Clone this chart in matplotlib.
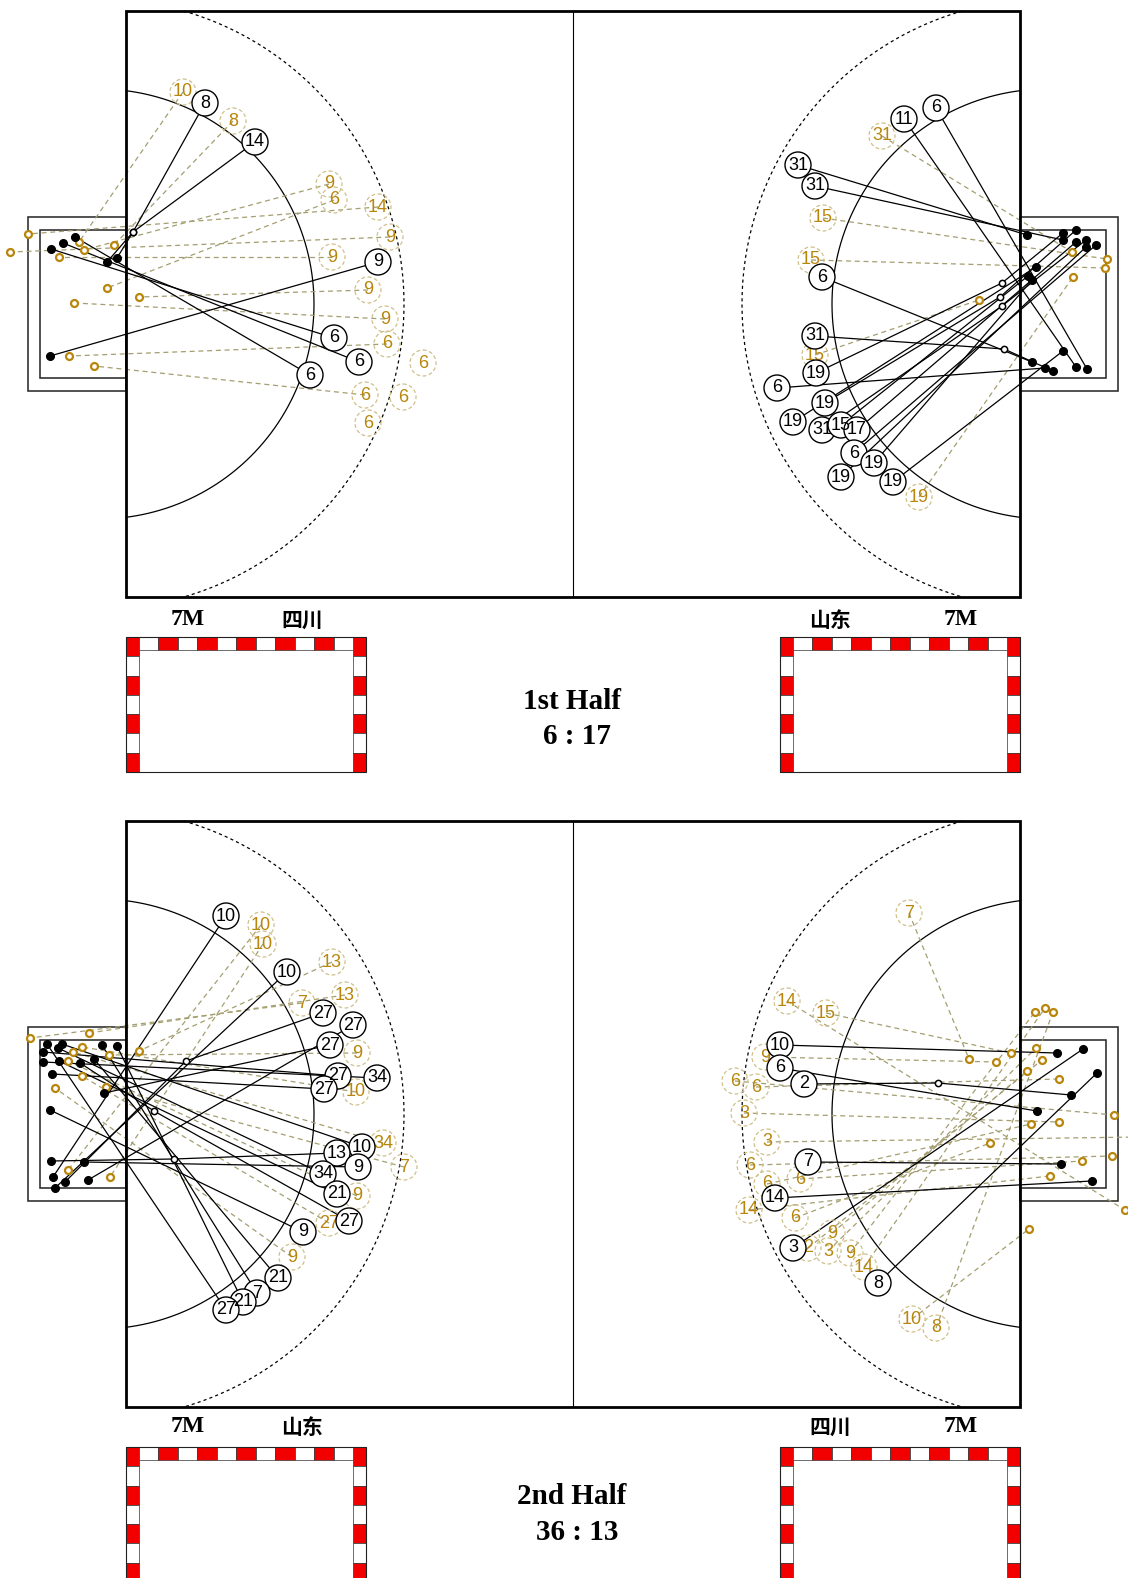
import matplotlib
matplotlib.use("Agg")
import matplotlib.pyplot as plt
from matplotlib.patches import Circle, Rectangle
import numpy as np

# court frame, local units (1 unit = 1 px of the source sheet)
W, H = 894, 586
GOAL_Y = 293
ARC_BACK = 27          # arcs are centred a little behind the goal line
R6, R9 = 215, 305

GOLD = "#B8860B"
GOLD_RING = "#CFC08A"
MISS_LINE = "#A49E70"
POST_RED = "#F20000"

TITLES = [("1st Half", "6 : 17"), ("2nd Half", "36 : 13")]
TEAMS = [("四川", "山东"), ("山东", "四川")]

# goals: (number, shooter x, shooter y, target x, target y, via x, via y)
# misses: (number, shooter x, shooter y, target x, target y)
H1_LEFT_GOALS = [
    (8,   79,  92,  -9, 247,    7, 221),
    (14, 129, 131, -19, 251,    7, 221),
    (9,  252, 251, -76, 345, None, None),
    (6,  208, 327, -75, 238, None, None),
    (6,  233, 351, -63, 232, None, None),
    (6,  184, 364, -51, 226, None, None),
]
H1_LEFT_MISSES = [
    (10,  57,  81,  -47, 231),
    (8,  107, 110,  -12, 234),
    (9,  203, 173,  -42, 239),
    (6,  208, 189,  -19, 277),
    (14, 252, 196,  -98, 223),
    (9,  264, 226, -116, 241),
    (9,  206, 246,  -67, 246),
    (9,  242, 279,   13, 286),
    (9,  259, 308,  -52, 292),
    (6,  261, 333,  -57, 345),
    (6,  297, 352, None, None),
    (6,  239, 384,  -32, 355),
    (6,  277, 386, None, None),
    (6,  242, 412, None, None),
]
H1_RIGHT_GOALS = [
    (6,  810,  97, 961, 358, None, None),
    (11, 778, 108, 950, 356, None, None),
    (31, 672, 154, 901, 224, None, None),
    (31, 689, 175, 937, 229, None, None),
    (6,  696, 266, 906, 351, None, None),
    (31, 689, 325, 927, 360,  878, 338),
    (19, 690, 362, 937, 222,  876, 272),
    (6,  651, 377, 919, 357, None, None),
    (19, 699, 392, 950, 219,  874, 286),
    (19, 667, 411, 910, 256, None, None),
    (31, 696, 419, 960, 229,  876, 295),
    (15, 715, 414, 902, 265, None, None),
    (17, 731, 419, 950, 231, None, None),
    (6,  728, 442, 970, 234, None, None),
    (19, 748, 452, 906, 269, None, None),
    (19, 715, 466, 960, 236, None, None),
    (19, 767, 471, 937, 340, None, None),
]
H1_RIGHT_MISSES = [
    (31, 756, 125, 946, 241),
    (15, 697, 207, 981, 248),
    (15, 685, 249, 979, 257),
    (15, 689, 344, 853, 289),
    (19, 793, 486, 947, 266),
]
H2_LEFT_GOALS = [
    (10, 100,  95, -73, 356, None, None),
    (10, 161, 151, -71, 367, None, None),
    (27, 197, 192, -61, 361,   60, 240),
    (27, 227, 204, -38, 359, None, None),
    (27, 204, 224, -22, 272, None, None),
    (27, 212, 255, -83, 231, None, None),
    (27, 198, 268, -74, 253, None, None),
    (34, 251, 257, -83, 241, None, None),
    (10, 236, 326, -64, 223, None, None),
    (13, 211, 332, -75, 340,   48, 338),
    (9,  232, 346, -42, 341, None, None),
    (34, 197, 353, -68, 227, None, None),
    (21, 211, 373, -67, 240, None, None),
    (27, 223, 400, -46, 242,   28, 290),
    (9,  177, 411, -76, 289, None, None),
    (21, 152, 457, -32, 238, None, None),
    (7,  131, 472, -24, 224, None, None),
    (21, 117, 481,  -9, 225, None, None),
    (27, 100, 489, -79, 223, None, None),
]
H2_LEFT_MISSES = [
    (10, 135, 104, -58, 349),
    (10, 137, 123, -16, 356),
    (13, 206, 141,  13, 230),
    (13, 219, 174, -37, 212),
    (7,  176, 182, -96, 217),
    (9,  231, 232, -17, 234),
    (10, 230, 271, -44, 226),
    (34, 257, 322, -53, 231),
    (7,  278, 346, -20, 266),
    (9,  231, 375, -58, 240),
    (27, 203, 402, -44, 255),
    (9,  166, 436, -71, 267),
]
H2_RIGHT_GOALS = [
    (10, 654, 224, 931, 232, None, None),
    (6,  654, 247, 911, 290, None, None),
    (2,  678, 263, 945, 274,  812, 262),
    (7,  682, 341, 935, 343, None, None),
    (14, 649, 377, 966, 360, None, None),
    (3,  667, 427, 957, 228, None, None),
    (8,  752, 462, 971, 252, None, None),
]
H2_RIGHT_MISSES = [
    (7,  783,  92,  843, 238),
    (14, 661, 180,  999, 389),
    (15, 700, 192,  885, 232),
    (9,  639, 236,  870, 241),
    (6,  609, 260,  988, 294),
    (6,  630, 266,  933, 258),
    (3,  618, 292,  933, 301),
    (3,  641, 321, 1014, 316),
    (6,  624, 344,  986, 335),
    (6,  674, 358,  956, 340),
    (6,  641, 363,  905, 303),
    (14, 623, 389,  924, 355),
    (6,  669, 397,  864, 322),
    (9,  706, 412,  901, 250),
    (2,  682, 427,  916, 239),
    (3,  702, 430,  910, 227),
    (9,  724, 432,  909, 191),
    (14, 738, 446,  919, 187),
    (10, 786, 498,  903, 408),
    (8,  810, 507,  927, 191),
]


def draw_court(ax):
    ax.add_patch(Rectangle((0, 0), W, H, fill=False, ec="black", lw=2.0, zorder=8))
    ax.plot([W / 2, W / 2], [0, H], color="black", lw=0.8, zorder=1)
    t6 = np.arccos(ARC_BACK / R6)
    t9 = np.arcsin(GOAL_Y / R9)
    for sgn, base in [(1, 0), (-1, W)]:
        # goal area boxes behind the goal line
        ax.add_patch(Rectangle((base, GOAL_Y - 87), -sgn * 98, 174,
                               fill=False, ec="#222", lw=1.1, zorder=1))
        ax.add_patch(Rectangle((base, GOAL_Y - 74), -sgn * 86, 148,
                               fill=False, ec="#222", lw=1.1, zorder=1))
        t = np.linspace(-t6, t6, 300)
        ax.plot(base + sgn * (-ARC_BACK + R6 * np.cos(t)), GOAL_Y + R6 * np.sin(t),
                color="black", lw=0.9, zorder=1)
        t = np.linspace(-t9, t9, 300)
        ax.plot(base + sgn * (-ARC_BACK + R9 * np.cos(t)), GOAL_Y + R9 * np.sin(t),
                color="black", lw=0.9, ls=(0, (2.5, 2.5)), zorder=1)


def draw_shots(ax, goals, misses):
    for num, sx, sy, tx, ty in misses:
        if tx is not None:
            ax.plot([sx, tx], [sy, ty], color=MISS_LINE, lw=0.9,
                    ls=(0, (4, 3)), zorder=2)
            ax.plot(tx, ty, "o", ms=5, mfc="white", mec=GOLD, mew=1.6, zorder=4)
        ax.add_patch(Circle((sx, sy), 13, fc="none", ec=GOLD_RING, lw=0.9,
                            ls=(0, (3, 2)), zorder=5))
        ax.text(sx, sy, str(num), color=GOLD, fontsize=13, family="Liberation Sans",
                ha="center", va="center", zorder=5.5)
    for num, sx, sy, tx, ty, vx, vy in goals:
        xs, ys = [sx, tx], [sy, ty]
        if vx is not None:
            xs.insert(1, vx)
            ys.insert(1, vy)
        ax.plot(xs, ys, color="black", lw=0.9, zorder=3)
        if vx is not None:
            ax.plot(vx, vy, "o", ms=4.5, mfc="white", mec="black", mew=1.1, zorder=4)
        ax.plot(tx, ty, "o", ms=5.5, color="black", zorder=4)
        ax.add_patch(Circle((sx, sy), 13, fc="white", ec="black", lw=1.0, zorder=6))
        ax.text(sx, sy, str(num), color="black", fontsize=13, family="Liberation Sans",
                ha="center", va="center", zorder=7)


def draw_goal(ax, x0, y0, w=240, h=135, post=13):
    seg = h / 7
    for i in range(7):
        c = POST_RED if i % 2 == 0 else "white"
        for px in (x0, x0 + w - post):
            ax.add_patch(Rectangle((px, y0 + i * seg), post, seg, fc=c,
                                   ec="#333", lw=0.5, zorder=3))
    sq = (w - 2 * post) / 11
    for j in range(11):
        c = "white" if j % 2 == 0 else POST_RED
        ax.add_patch(Rectangle((x0 + post + j * sq, y0), sq, post, fc=c,
                               ec="#333", lw=0.5, zorder=3))
    ax.add_patch(Rectangle((x0, y0), w, h, fill=False, ec="#222", lw=0.8, zorder=4))


def draw_half(ax, goals_l, misses_l, goals_r, misses_r, teams, title, score,
              label_y, title_y):
    draw_court(ax)
    draw_shots(ax, goals_l, misses_l)
    draw_shots(ax, goals_r, misses_r)
    draw_goal(ax, 0, 626)
    draw_goal(ax, W - 240, 626)
    lab = dict(fontsize=17, family="Liberation Serif", weight="bold",
               ha="center", va="center")
    cjk = dict(fontsize=15, family=["Noto Sans CJK SC", "DejaVu Sans"],
               weight="bold", ha="center", va="center")
    ax.text(62, label_y, "7M", **lab)
    ax.text(176, label_y, teams[0], **cjk)
    ax.text(704, label_y, teams[1], **cjk)
    ax.text(835, label_y, "7M", **lab)
    big = dict(fontsize=21, family="Liberation Serif", weight="bold",
               ha="center", va="center")
    ax.text(446, title_y, title, **big)
    ax.text(451, title_y + 35, score, **big)


fig = plt.figure(figsize=(11.28, 15.78), dpi=100)
fig.patch.set_facecolor("white")

ax1 = fig.add_axes([0, 0.5, 1, 0.5])
ax1.set_xlim(-126, 1002)
ax1.set_ylim(778, -11)
ax1.axis("off")
draw_half(ax1, H1_LEFT_GOALS, H1_LEFT_MISSES, H1_RIGHT_GOALS, H1_RIGHT_MISSES,
          TEAMS[0], TITLES[0][0], TITLES[0][1], 609, 691)

ax2 = fig.add_axes([0, 0, 1, 0.5])
ax2.set_xlim(-126, 1002)
ax2.set_ylim(757, -32)
ax2.axis("off")
draw_half(ax2, H2_LEFT_GOALS, H2_LEFT_MISSES, H2_RIGHT_GOALS, H2_RIGHT_MISSES,
          TEAMS[1], TITLES[1][0], TITLES[1][1], 606, 676)

fig.savefig("out.png", dpi=100)
